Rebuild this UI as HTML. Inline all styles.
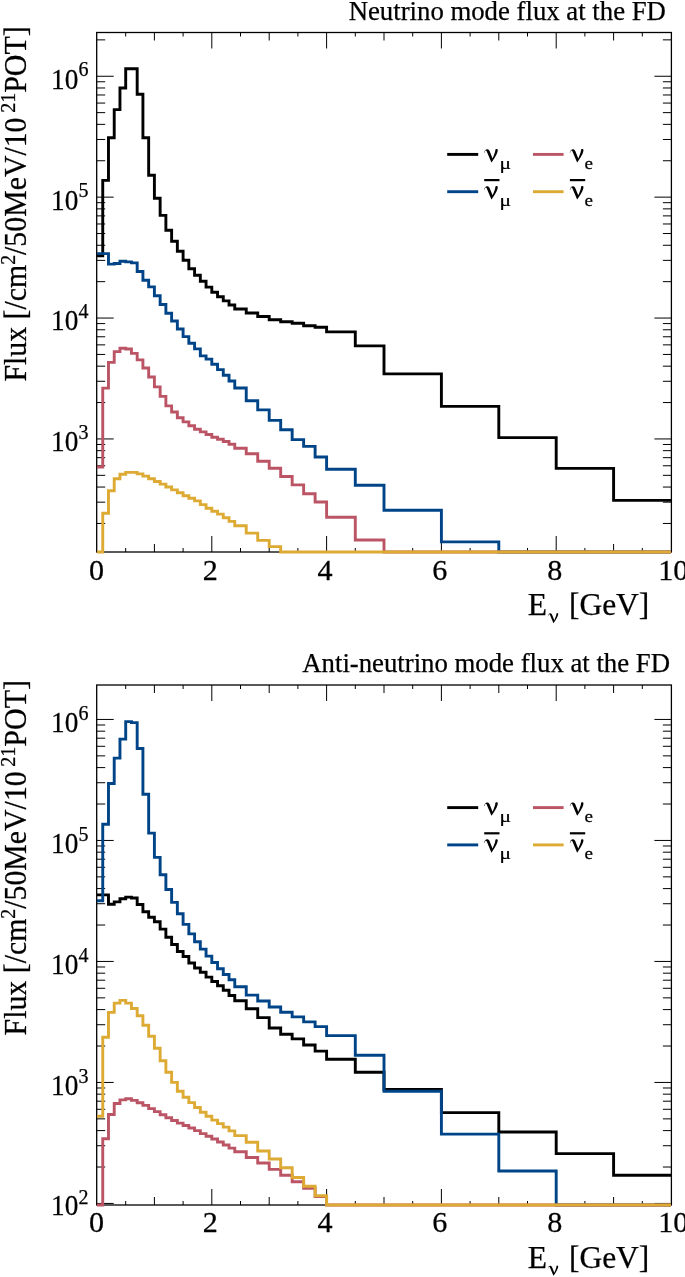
<!DOCTYPE html>
<html><head><meta charset="utf-8"><title>Flux at the FD</title>
<style>
html,body{margin:0;padding:0;background:#fff;}
svg{display:block;will-change:transform;}
text{font-family:"Liberation Serif",serif;fill:#000;stroke:#000;stroke-width:0.25px;}
</style></head>
<body>
<svg width="685" height="1277" viewBox="0 0 685 1277">
<rect width="685" height="1277" fill="#fff"/>
<rect x="96.70" y="32.50" width="574.70" height="519.50" fill="none" stroke="#000" stroke-width="1.3"/>
<path d="M125.70 552.00 v-4.00 M125.70 32.50 v4.00" stroke="#000" stroke-width="1.0" fill="none"/>
<path d="M154.40 552.00 v-8.00 M154.40 32.50 v8.00" stroke="#000" stroke-width="1.0" fill="none"/>
<path d="M183.10 552.00 v-4.00 M183.10 32.50 v4.00" stroke="#000" stroke-width="1.0" fill="none"/>
<path d="M211.80 552.00 v-16.00 M211.80 32.50 v16.00" stroke="#000" stroke-width="1.0" fill="none"/>
<path d="M240.50 552.00 v-4.00 M240.50 32.50 v4.00" stroke="#000" stroke-width="1.0" fill="none"/>
<path d="M269.20 552.00 v-8.00 M269.20 32.50 v8.00" stroke="#000" stroke-width="1.0" fill="none"/>
<path d="M297.90 552.00 v-4.00 M297.90 32.50 v4.00" stroke="#000" stroke-width="1.0" fill="none"/>
<path d="M326.60 552.00 v-16.00 M326.60 32.50 v16.00" stroke="#000" stroke-width="1.0" fill="none"/>
<path d="M355.30 552.00 v-4.00 M355.30 32.50 v4.00" stroke="#000" stroke-width="1.0" fill="none"/>
<path d="M384.00 552.00 v-8.00 M384.00 32.50 v8.00" stroke="#000" stroke-width="1.0" fill="none"/>
<path d="M412.70 552.00 v-4.00 M412.70 32.50 v4.00" stroke="#000" stroke-width="1.0" fill="none"/>
<path d="M441.40 552.00 v-16.00 M441.40 32.50 v16.00" stroke="#000" stroke-width="1.0" fill="none"/>
<path d="M470.10 552.00 v-4.00 M470.10 32.50 v4.00" stroke="#000" stroke-width="1.0" fill="none"/>
<path d="M498.80 552.00 v-8.00 M498.80 32.50 v8.00" stroke="#000" stroke-width="1.0" fill="none"/>
<path d="M527.50 552.00 v-4.00 M527.50 32.50 v4.00" stroke="#000" stroke-width="1.0" fill="none"/>
<path d="M556.20 552.00 v-16.00 M556.20 32.50 v16.00" stroke="#000" stroke-width="1.0" fill="none"/>
<path d="M584.90 552.00 v-4.00 M584.90 32.50 v4.00" stroke="#000" stroke-width="1.0" fill="none"/>
<path d="M613.60 552.00 v-8.00 M613.60 32.50 v8.00" stroke="#000" stroke-width="1.0" fill="none"/>
<path d="M642.30 552.00 v-4.00 M642.30 32.50 v4.00" stroke="#000" stroke-width="1.0" fill="none"/>
<path d="M96.70 523.46 h8.50 M671.40 523.46 h-8.50" stroke="#000" stroke-width="1.0" fill="none"/>
<path d="M96.70 502.17 h8.50 M671.40 502.17 h-8.50" stroke="#000" stroke-width="1.0" fill="none"/>
<path d="M96.70 487.06 h8.50 M671.40 487.06 h-8.50" stroke="#000" stroke-width="1.0" fill="none"/>
<path d="M96.70 475.34 h8.50 M671.40 475.34 h-8.50" stroke="#000" stroke-width="1.0" fill="none"/>
<path d="M96.70 465.77 h8.50 M671.40 465.77 h-8.50" stroke="#000" stroke-width="1.0" fill="none"/>
<path d="M96.70 457.68 h8.50 M671.40 457.68 h-8.50" stroke="#000" stroke-width="1.0" fill="none"/>
<path d="M96.70 450.67 h8.50 M671.40 450.67 h-8.50" stroke="#000" stroke-width="1.0" fill="none"/>
<path d="M96.70 444.48 h8.50 M671.40 444.48 h-8.50" stroke="#000" stroke-width="1.0" fill="none"/>
<path d="M96.70 438.95 h17.00 M671.40 438.95 h-17.00" stroke="#000" stroke-width="1.0" fill="none"/>
<path d="M96.70 402.56 h8.50 M671.40 402.56 h-8.50" stroke="#000" stroke-width="1.0" fill="none"/>
<path d="M96.70 381.27 h8.50 M671.40 381.27 h-8.50" stroke="#000" stroke-width="1.0" fill="none"/>
<path d="M96.70 366.16 h8.50 M671.40 366.16 h-8.50" stroke="#000" stroke-width="1.0" fill="none"/>
<path d="M96.70 354.44 h8.50 M671.40 354.44 h-8.50" stroke="#000" stroke-width="1.0" fill="none"/>
<path d="M96.70 344.87 h8.50 M671.40 344.87 h-8.50" stroke="#000" stroke-width="1.0" fill="none"/>
<path d="M96.70 336.78 h8.50 M671.40 336.78 h-8.50" stroke="#000" stroke-width="1.0" fill="none"/>
<path d="M96.70 329.77 h8.50 M671.40 329.77 h-8.50" stroke="#000" stroke-width="1.0" fill="none"/>
<path d="M96.70 323.58 h8.50 M671.40 323.58 h-8.50" stroke="#000" stroke-width="1.0" fill="none"/>
<path d="M96.70 318.05 h17.00 M671.40 318.05 h-17.00" stroke="#000" stroke-width="1.0" fill="none"/>
<path d="M96.70 281.66 h8.50 M671.40 281.66 h-8.50" stroke="#000" stroke-width="1.0" fill="none"/>
<path d="M96.70 260.37 h8.50 M671.40 260.37 h-8.50" stroke="#000" stroke-width="1.0" fill="none"/>
<path d="M96.70 245.26 h8.50 M671.40 245.26 h-8.50" stroke="#000" stroke-width="1.0" fill="none"/>
<path d="M96.70 233.54 h8.50 M671.40 233.54 h-8.50" stroke="#000" stroke-width="1.0" fill="none"/>
<path d="M96.70 223.97 h8.50 M671.40 223.97 h-8.50" stroke="#000" stroke-width="1.0" fill="none"/>
<path d="M96.70 215.88 h8.50 M671.40 215.88 h-8.50" stroke="#000" stroke-width="1.0" fill="none"/>
<path d="M96.70 208.87 h8.50 M671.40 208.87 h-8.50" stroke="#000" stroke-width="1.0" fill="none"/>
<path d="M96.70 202.68 h8.50 M671.40 202.68 h-8.50" stroke="#000" stroke-width="1.0" fill="none"/>
<path d="M96.70 197.15 h17.00 M671.40 197.15 h-17.00" stroke="#000" stroke-width="1.0" fill="none"/>
<path d="M96.70 160.76 h8.50 M671.40 160.76 h-8.50" stroke="#000" stroke-width="1.0" fill="none"/>
<path d="M96.70 139.47 h8.50 M671.40 139.47 h-8.50" stroke="#000" stroke-width="1.0" fill="none"/>
<path d="M96.70 124.36 h8.50 M671.40 124.36 h-8.50" stroke="#000" stroke-width="1.0" fill="none"/>
<path d="M96.70 112.64 h8.50 M671.40 112.64 h-8.50" stroke="#000" stroke-width="1.0" fill="none"/>
<path d="M96.70 103.07 h8.50 M671.40 103.07 h-8.50" stroke="#000" stroke-width="1.0" fill="none"/>
<path d="M96.70 94.98 h8.50 M671.40 94.98 h-8.50" stroke="#000" stroke-width="1.0" fill="none"/>
<path d="M96.70 87.97 h8.50 M671.40 87.97 h-8.50" stroke="#000" stroke-width="1.0" fill="none"/>
<path d="M96.70 81.78 h8.50 M671.40 81.78 h-8.50" stroke="#000" stroke-width="1.0" fill="none"/>
<path d="M96.70 76.25 h17.00 M671.40 76.25 h-17.00" stroke="#000" stroke-width="1.0" fill="none"/>
<path d="M96.70 39.86 h8.50 M671.40 39.86 h-8.50" stroke="#000" stroke-width="1.0" fill="none"/>
<path d="M97.00 255.80 L102.74 255.80 L102.74 180.40 L108.48 180.40 L108.48 137.70 L114.22 137.70 L114.22 109.60 L119.96 109.60 L119.96 88.00 L125.70 88.00 L125.70 68.80 L131.44 68.80 L131.44 68.80 L137.18 68.80 L137.18 94.30 L142.92 94.30 L142.92 137.80 L148.66 137.80 L148.66 175.30 L154.40 175.30 L154.40 198.20 L160.14 198.20 L160.14 215.40 L165.88 215.40 L165.88 230.30 L171.62 230.30 L171.62 241.30 L177.36 241.30 L177.36 251.20 L183.10 251.20 L183.10 260.20 L188.84 260.20 L188.84 268.70 L194.58 268.70 L194.58 275.20 L200.32 275.20 L200.32 281.30 L206.06 281.30 L206.06 287.10 L211.80 287.10 L211.80 292.20 L217.54 292.20 L217.54 296.70 L223.28 296.70 L223.28 300.90 L229.02 300.90 L229.02 305.00 L234.76 305.00 L234.76 309.00 L246.24 309.00 L246.24 313.00 L257.72 313.00 L257.72 316.50 L269.20 316.50 L269.20 319.70 L280.68 319.70 L280.68 321.70 L292.16 321.70 L292.16 323.30 L303.64 323.30 L303.64 325.80 L315.12 325.80 L315.12 327.20 L326.60 327.20 L326.60 331.90 L355.30 331.90 L355.30 345.90 L384.00 345.90 L384.00 373.90 L441.40 373.90 L441.40 406.40 L498.80 406.40 L498.80 437.60 L556.20 437.60 L556.20 468.40 L613.60 468.40 L613.60 500.40 L671.00 500.40" fill="none" stroke="#000000" stroke-width="2.9" stroke-linejoin="miter" stroke-linecap="butt"/>
<path d="M97.00 253.60 L102.74 253.60 L102.74 253.60 L108.48 253.60 L108.48 264.10 L114.22 264.10 L114.22 263.50 L119.96 263.50 L119.96 261.30 L125.70 261.30 L125.70 261.90 L131.44 261.90 L131.44 262.90 L137.18 262.90 L137.18 271.50 L142.92 271.50 L142.92 280.20 L148.66 280.20 L148.66 286.90 L154.40 286.90 L154.40 295.70 L160.14 295.70 L160.14 304.50 L165.88 304.50 L165.88 313.20 L171.62 313.20 L171.62 321.00 L177.36 321.00 L177.36 329.00 L183.10 329.00 L183.10 336.60 L188.84 336.60 L188.84 343.30 L194.58 343.30 L194.58 348.90 L200.32 348.90 L200.32 355.90 L206.06 355.90 L206.06 359.10 L211.80 359.10 L211.80 364.30 L217.54 364.30 L217.54 369.60 L223.28 369.60 L223.28 375.30 L229.02 375.30 L229.02 381.00 L234.76 381.00 L234.76 388.00 L246.24 388.00 L246.24 400.80 L257.72 400.80 L257.72 409.90 L269.20 409.90 L269.20 420.40 L280.68 420.40 L280.68 429.80 L292.16 429.80 L292.16 439.60 L303.64 439.60 L303.64 446.40 L315.12 446.40 L315.12 457.00 L326.60 457.00 L326.60 469.30 L355.30 469.30 L355.30 485.20 L384.00 485.20 L384.00 510.20 L441.40 510.20 L441.40 541.90 L498.80 541.90 L498.80 552.00 L556.20 552.00 L556.20 552.00 L613.60 552.00 L613.60 552.00 L671.00 552.00" fill="none" stroke="#004488" stroke-width="2.9" stroke-linejoin="miter" stroke-linecap="butt"/>
<path d="M97.00 467.00 L102.74 467.00 L102.74 388.10 L108.48 388.10 L108.48 362.40 L114.22 362.40 L114.22 351.60 L119.96 351.60 L119.96 348.20 L125.70 348.20 L125.70 349.00 L131.44 349.00 L131.44 353.40 L137.18 353.40 L137.18 359.90 L142.92 359.90 L142.92 368.00 L148.66 368.00 L148.66 377.00 L154.40 377.00 L154.40 386.90 L160.14 386.90 L160.14 396.40 L165.88 396.40 L165.88 405.90 L171.62 405.90 L171.62 412.00 L177.36 412.00 L177.36 417.80 L183.10 417.80 L183.10 421.90 L188.84 421.90 L188.84 425.80 L194.58 425.80 L194.58 429.30 L200.32 429.30 L200.32 431.90 L206.06 431.90 L206.06 434.50 L211.80 434.50 L211.80 437.20 L217.54 437.20 L217.54 439.30 L223.28 439.30 L223.28 441.50 L229.02 441.50 L229.02 444.20 L234.76 444.20 L234.76 448.20 L246.24 448.20 L246.24 453.80 L257.72 453.80 L257.72 461.20 L269.20 461.20 L269.20 468.20 L280.68 468.20 L280.68 476.50 L292.16 476.50 L292.16 484.90 L303.64 484.90 L303.64 493.80 L315.12 493.80 L315.12 502.00 L326.60 502.00 L326.60 517.30 L355.30 517.30 L355.30 540.00 L384.00 540.00 L384.00 552.00 L441.40 552.00 L441.40 552.00 L498.80 552.00 L498.80 552.00 L556.20 552.00 L556.20 552.00 L613.60 552.00 L613.60 552.00 L671.00 552.00" fill="none" stroke="#BB5566" stroke-width="2.9" stroke-linejoin="miter" stroke-linecap="butt"/>
<path d="M97.00 552.00 L102.74 552.00 L102.74 513.30 L108.48 513.30 L108.48 490.70 L114.22 490.70 L114.22 478.70 L119.96 478.70 L119.96 474.30 L125.70 474.30 L125.70 472.40 L131.44 472.40 L131.44 472.40 L137.18 472.40 L137.18 473.90 L142.92 473.90 L142.92 476.10 L148.66 476.10 L148.66 478.70 L154.40 478.70 L154.40 481.50 L160.14 481.50 L160.14 484.10 L165.88 484.10 L165.88 487.00 L171.62 487.00 L171.62 489.90 L177.36 489.90 L177.36 492.80 L183.10 492.80 L183.10 495.80 L188.84 495.80 L188.84 498.20 L194.58 498.20 L194.58 500.90 L200.32 500.90 L200.32 504.60 L206.06 504.60 L206.06 508.20 L211.80 508.20 L211.80 511.20 L217.54 511.20 L217.54 514.10 L223.28 514.10 L223.28 517.70 L229.02 517.70 L229.02 521.40 L234.76 521.40 L234.76 525.80 L246.24 525.80 L246.24 533.10 L257.72 533.10 L257.72 540.40 L269.20 540.40 L269.20 546.60 L280.68 546.60 L280.68 552.00 L292.16 552.00 L292.16 552.00 L303.64 552.00 L303.64 552.00 L315.12 552.00 L315.12 552.00 L326.60 552.00 L326.60 552.00 L355.30 552.00 L355.30 552.00 L384.00 552.00 L384.00 552.00 L441.40 552.00 L441.40 552.00 L498.80 552.00 L498.80 552.00 L556.20 552.00 L556.20 552.00 L613.60 552.00 L613.60 552.00 L671.00 552.00" fill="none" stroke="#DDAA33" stroke-width="2.9" stroke-linejoin="miter" stroke-linecap="butt"/>
<g class="tx">
<text transform="translate(665.90 19.50)" font-size="26.75" text-anchor="end">Neutrino mode flux at the FD</text>
<text transform="translate(51.00 88.65) scale(0.950 1.030)" font-size="28.70">10</text>
<text transform="translate(78.60 76.35)" font-size="20.00">6</text>
<text transform="translate(51.00 209.55) scale(0.950 1.030)" font-size="28.70">10</text>
<text transform="translate(78.60 197.25)" font-size="20.00">5</text>
<text transform="translate(51.00 330.45) scale(0.950 1.030)" font-size="28.70">10</text>
<text transform="translate(78.60 318.15)" font-size="20.00">4</text>
<text transform="translate(51.00 451.35) scale(0.950 1.030)" font-size="28.70">10</text>
<text transform="translate(78.60 439.05)" font-size="20.00">3</text>
<text transform="translate(96.50 579.60) scale(1.050 1.060)" font-size="28.70" text-anchor="middle">0</text>
<text transform="translate(210.30 579.60) scale(1.050 1.060)" font-size="28.70" text-anchor="middle">2</text>
<text transform="translate(325.10 579.60) scale(1.050 1.060)" font-size="28.70" text-anchor="middle">4</text>
<text transform="translate(439.90 579.60) scale(1.050 1.060)" font-size="28.70" text-anchor="middle">6</text>
<text transform="translate(554.70 579.60) scale(1.050 1.060)" font-size="28.70" text-anchor="middle">8</text>
<text transform="translate(673.20 579.60) scale(1.050 1.060)" font-size="28.70" text-anchor="middle">10</text>
<text transform="translate(527.80 615.00)" font-size="31.50">E</text>
<text transform="translate(568.90 615.00)" font-size="31.50">[GeV]</text>
<text transform="translate(26.20 381.60) rotate(-90) scale(0.994 1.055)" font-size="30.00">Flux [/cm<tspan font-size="20.0" dy="-10.5">2</tspan><tspan dy="10.5">/50MeV/10</tspan></text>
<text transform="translate(26.20 26.20) rotate(-90) scale(1.000 1.055)" font-size="30.00" text-anchor="end"><tspan font-size="20.0" dy="-10.5">21</tspan><tspan dy="10.5">POT]</tspan></text>
</g>
<path d="M447.2 154.40 H478.2" stroke="#000000" stroke-width="2.9"/>
<path d="M447.2 191.70 H478.2" stroke="#004488" stroke-width="2.9"/>
<path transform="translate(484.10 162.30) scale(0.02920) translate(-105 -592)" d="M105 265 C110 200 160 148 210 145 C265 142 290 190 310 250 L395 460 L440 350 C465 290 490 220 490 175 C492 140 520 135 545 140 C575 145 580 175 565 230 C550 290 500 400 365 592 L352 592 L200 230 C190 200 175 188 158 190 C135 195 125 230 120 268 Z" fill="#000"/>
<text transform="translate(499.40 168.90) scale(1.220 1.000)" font-size="17.60">μ</text>
<path transform="translate(484.10 199.20) scale(0.02920) translate(-105 -592)" d="M105 265 C110 200 160 148 210 145 C265 142 290 190 310 250 L395 460 L440 350 C465 290 490 220 490 175 C492 140 520 135 545 140 C575 145 580 175 565 230 C550 290 500 400 365 592 L352 592 L200 230 C190 200 175 188 158 190 C135 195 125 230 120 268 Z" fill="#000"/>
<text transform="translate(499.40 206.20) scale(1.220 1.000)" font-size="17.60">μ</text>
<path d="M484.2 180.10 h15.3" stroke="#000" stroke-width="2.2"/>
<path d="M533.0 154.40 H563.6" stroke="#BB5566" stroke-width="2.9"/>
<path d="M533.0 191.70 H563.6" stroke="#DDAA33" stroke-width="2.9"/>
<path transform="translate(569.80 162.30) scale(0.02920) translate(-105 -592)" d="M105 265 C110 200 160 148 210 145 C265 142 290 190 310 250 L395 460 L440 350 C465 290 490 220 490 175 C492 140 520 135 545 140 C575 145 580 175 565 230 C550 290 500 400 365 592 L352 592 L200 230 C190 200 175 188 158 190 C135 195 125 230 120 268 Z" fill="#000"/>
<text transform="translate(584.40 168.90) scale(1.080 1.000)" font-size="17.60">e</text>
<path transform="translate(569.80 199.20) scale(0.02920) translate(-105 -592)" d="M105 265 C110 200 160 148 210 145 C265 142 290 190 310 250 L395 460 L440 350 C465 290 490 220 490 175 C492 140 520 135 545 140 C575 145 580 175 565 230 C550 290 500 400 365 592 L352 592 L200 230 C190 200 175 188 158 190 C135 195 125 230 120 268 Z" fill="#000"/>
<text transform="translate(584.40 206.20) scale(1.080 1.000)" font-size="17.60">e</text>
<path d="M569.9 180.10 h15.3" stroke="#000" stroke-width="2.2"/>
<path transform="translate(547.90 623.10) scale(0.02204) translate(-105 -592)" d="M105 265 C110 200 160 148 210 145 C265 142 290 190 310 250 L395 460 L440 350 C465 290 490 220 490 175 C492 140 520 135 545 140 C575 145 580 175 565 230 C550 290 500 400 365 592 L352 592 L200 230 C190 200 175 188 158 190 C135 195 125 230 120 268 Z" fill="#000"/>
<rect x="96.70" y="685.00" width="574.70" height="520.00" fill="none" stroke="#000" stroke-width="1.3"/>
<path d="M125.70 1205.00 v-4.00 M125.70 685.00 v4.00" stroke="#000" stroke-width="1.0" fill="none"/>
<path d="M154.40 1205.00 v-8.00 M154.40 685.00 v8.00" stroke="#000" stroke-width="1.0" fill="none"/>
<path d="M183.10 1205.00 v-4.00 M183.10 685.00 v4.00" stroke="#000" stroke-width="1.0" fill="none"/>
<path d="M211.80 1205.00 v-16.00 M211.80 685.00 v16.00" stroke="#000" stroke-width="1.0" fill="none"/>
<path d="M240.50 1205.00 v-4.00 M240.50 685.00 v4.00" stroke="#000" stroke-width="1.0" fill="none"/>
<path d="M269.20 1205.00 v-8.00 M269.20 685.00 v8.00" stroke="#000" stroke-width="1.0" fill="none"/>
<path d="M297.90 1205.00 v-4.00 M297.90 685.00 v4.00" stroke="#000" stroke-width="1.0" fill="none"/>
<path d="M326.60 1205.00 v-16.00 M326.60 685.00 v16.00" stroke="#000" stroke-width="1.0" fill="none"/>
<path d="M355.30 1205.00 v-4.00 M355.30 685.00 v4.00" stroke="#000" stroke-width="1.0" fill="none"/>
<path d="M384.00 1205.00 v-8.00 M384.00 685.00 v8.00" stroke="#000" stroke-width="1.0" fill="none"/>
<path d="M412.70 1205.00 v-4.00 M412.70 685.00 v4.00" stroke="#000" stroke-width="1.0" fill="none"/>
<path d="M441.40 1205.00 v-16.00 M441.40 685.00 v16.00" stroke="#000" stroke-width="1.0" fill="none"/>
<path d="M470.10 1205.00 v-4.00 M470.10 685.00 v4.00" stroke="#000" stroke-width="1.0" fill="none"/>
<path d="M498.80 1205.00 v-8.00 M498.80 685.00 v8.00" stroke="#000" stroke-width="1.0" fill="none"/>
<path d="M527.50 1205.00 v-4.00 M527.50 685.00 v4.00" stroke="#000" stroke-width="1.0" fill="none"/>
<path d="M556.20 1205.00 v-16.00 M556.20 685.00 v16.00" stroke="#000" stroke-width="1.0" fill="none"/>
<path d="M584.90 1205.00 v-4.00 M584.90 685.00 v4.00" stroke="#000" stroke-width="1.0" fill="none"/>
<path d="M613.60 1205.00 v-8.00 M613.60 685.00 v8.00" stroke="#000" stroke-width="1.0" fill="none"/>
<path d="M642.30 1205.00 v-4.00 M642.30 685.00 v4.00" stroke="#000" stroke-width="1.0" fill="none"/>
<path d="M96.70 1203.45 h17.00 M671.40 1203.45 h-17.00" stroke="#000" stroke-width="1.0" fill="none"/>
<path d="M96.70 1167.03 h8.50 M671.40 1167.03 h-8.50" stroke="#000" stroke-width="1.0" fill="none"/>
<path d="M96.70 1145.72 h8.50 M671.40 1145.72 h-8.50" stroke="#000" stroke-width="1.0" fill="none"/>
<path d="M96.70 1130.60 h8.50 M671.40 1130.60 h-8.50" stroke="#000" stroke-width="1.0" fill="none"/>
<path d="M96.70 1118.87 h8.50 M671.40 1118.87 h-8.50" stroke="#000" stroke-width="1.0" fill="none"/>
<path d="M96.70 1109.29 h8.50 M671.40 1109.29 h-8.50" stroke="#000" stroke-width="1.0" fill="none"/>
<path d="M96.70 1101.19 h8.50 M671.40 1101.19 h-8.50" stroke="#000" stroke-width="1.0" fill="none"/>
<path d="M96.70 1094.18 h8.50 M671.40 1094.18 h-8.50" stroke="#000" stroke-width="1.0" fill="none"/>
<path d="M96.70 1087.99 h8.50 M671.40 1087.99 h-8.50" stroke="#000" stroke-width="1.0" fill="none"/>
<path d="M96.70 1082.45 h17.00 M671.40 1082.45 h-17.00" stroke="#000" stroke-width="1.0" fill="none"/>
<path d="M96.70 1046.03 h8.50 M671.40 1046.03 h-8.50" stroke="#000" stroke-width="1.0" fill="none"/>
<path d="M96.70 1024.72 h8.50 M671.40 1024.72 h-8.50" stroke="#000" stroke-width="1.0" fill="none"/>
<path d="M96.70 1009.60 h8.50 M671.40 1009.60 h-8.50" stroke="#000" stroke-width="1.0" fill="none"/>
<path d="M96.70 997.87 h8.50 M671.40 997.87 h-8.50" stroke="#000" stroke-width="1.0" fill="none"/>
<path d="M96.70 988.29 h8.50 M671.40 988.29 h-8.50" stroke="#000" stroke-width="1.0" fill="none"/>
<path d="M96.70 980.19 h8.50 M671.40 980.19 h-8.50" stroke="#000" stroke-width="1.0" fill="none"/>
<path d="M96.70 973.18 h8.50 M671.40 973.18 h-8.50" stroke="#000" stroke-width="1.0" fill="none"/>
<path d="M96.70 966.99 h8.50 M671.40 966.99 h-8.50" stroke="#000" stroke-width="1.0" fill="none"/>
<path d="M96.70 961.45 h17.00 M671.40 961.45 h-17.00" stroke="#000" stroke-width="1.0" fill="none"/>
<path d="M96.70 925.03 h8.50 M671.40 925.03 h-8.50" stroke="#000" stroke-width="1.0" fill="none"/>
<path d="M96.70 903.72 h8.50 M671.40 903.72 h-8.50" stroke="#000" stroke-width="1.0" fill="none"/>
<path d="M96.70 888.60 h8.50 M671.40 888.60 h-8.50" stroke="#000" stroke-width="1.0" fill="none"/>
<path d="M96.70 876.87 h8.50 M671.40 876.87 h-8.50" stroke="#000" stroke-width="1.0" fill="none"/>
<path d="M96.70 867.29 h8.50 M671.40 867.29 h-8.50" stroke="#000" stroke-width="1.0" fill="none"/>
<path d="M96.70 859.19 h8.50 M671.40 859.19 h-8.50" stroke="#000" stroke-width="1.0" fill="none"/>
<path d="M96.70 852.18 h8.50 M671.40 852.18 h-8.50" stroke="#000" stroke-width="1.0" fill="none"/>
<path d="M96.70 845.99 h8.50 M671.40 845.99 h-8.50" stroke="#000" stroke-width="1.0" fill="none"/>
<path d="M96.70 840.45 h17.00 M671.40 840.45 h-17.00" stroke="#000" stroke-width="1.0" fill="none"/>
<path d="M96.70 804.03 h8.50 M671.40 804.03 h-8.50" stroke="#000" stroke-width="1.0" fill="none"/>
<path d="M96.70 782.72 h8.50 M671.40 782.72 h-8.50" stroke="#000" stroke-width="1.0" fill="none"/>
<path d="M96.70 767.60 h8.50 M671.40 767.60 h-8.50" stroke="#000" stroke-width="1.0" fill="none"/>
<path d="M96.70 755.87 h8.50 M671.40 755.87 h-8.50" stroke="#000" stroke-width="1.0" fill="none"/>
<path d="M96.70 746.29 h8.50 M671.40 746.29 h-8.50" stroke="#000" stroke-width="1.0" fill="none"/>
<path d="M96.70 738.19 h8.50 M671.40 738.19 h-8.50" stroke="#000" stroke-width="1.0" fill="none"/>
<path d="M96.70 731.18 h8.50 M671.40 731.18 h-8.50" stroke="#000" stroke-width="1.0" fill="none"/>
<path d="M96.70 724.99 h8.50 M671.40 724.99 h-8.50" stroke="#000" stroke-width="1.0" fill="none"/>
<path d="M96.70 719.45 h17.00 M671.40 719.45 h-17.00" stroke="#000" stroke-width="1.0" fill="none"/>
<path d="M97.00 894.90 L102.74 894.90 L102.74 894.90 L108.48 894.90 L108.48 904.30 L114.22 904.30 L114.22 901.90 L119.96 901.90 L119.96 898.80 L125.70 898.80 L125.70 897.10 L131.44 897.10 L131.44 898.00 L137.18 898.00 L137.18 904.50 L142.92 904.50 L142.92 911.80 L148.66 911.80 L148.66 917.30 L154.40 917.30 L154.40 921.80 L160.14 921.80 L160.14 929.10 L165.88 929.10 L165.88 937.20 L171.62 937.20 L171.62 944.50 L177.36 944.50 L177.36 951.50 L183.10 951.50 L183.10 956.50 L188.84 956.50 L188.84 963.00 L194.58 963.00 L194.58 968.00 L200.32 968.00 L200.32 972.20 L206.06 972.20 L206.06 977.10 L211.80 977.10 L211.80 981.50 L217.54 981.50 L217.54 985.80 L223.28 985.80 L223.28 990.20 L229.02 990.20 L229.02 995.50 L234.76 995.50 L234.76 1000.70 L246.24 1000.70 L246.24 1008.80 L257.72 1008.80 L257.72 1017.60 L269.20 1017.60 L269.20 1028.00 L280.68 1028.00 L280.68 1034.20 L292.16 1034.20 L292.16 1038.90 L303.64 1038.90 L303.64 1045.00 L315.12 1045.00 L315.12 1051.10 L326.60 1051.10 L326.60 1059.30 L355.30 1059.30 L355.30 1072.30 L384.00 1072.30 L384.00 1089.50 L441.40 1089.50 L441.40 1112.60 L498.80 1112.60 L498.80 1132.00 L556.20 1132.00 L556.20 1153.60 L613.60 1153.60 L613.60 1175.30 L671.00 1175.30" fill="none" stroke="#000000" stroke-width="2.9" stroke-linejoin="miter" stroke-linecap="butt"/>
<path d="M97.00 900.70 L102.74 900.70 L102.74 824.30 L108.48 824.30 L108.48 783.50 L114.22 783.50 L114.22 758.10 L119.96 758.10 L119.96 739.10 L125.70 739.10 L125.70 721.60 L131.44 721.60 L131.44 722.60 L137.18 722.60 L137.18 748.50 L142.92 748.50 L142.92 794.20 L148.66 794.20 L148.66 833.10 L154.40 833.10 L154.40 857.40 L160.14 857.40 L160.14 874.70 L165.88 874.70 L165.88 889.50 L171.62 889.50 L171.62 902.40 L177.36 902.40 L177.36 913.80 L183.10 913.80 L183.10 924.40 L188.84 924.40 L188.84 933.90 L194.58 933.90 L194.58 941.70 L200.32 941.70 L200.32 949.10 L206.06 949.10 L206.06 956.10 L211.80 956.10 L211.80 962.50 L217.54 962.50 L217.54 968.70 L223.28 968.70 L223.28 974.50 L229.02 974.50 L229.02 979.70 L234.76 979.70 L234.76 986.70 L246.24 986.70 L246.24 995.10 L257.72 995.10 L257.72 1001.00 L269.20 1001.00 L269.20 1007.00 L280.68 1007.00 L280.68 1012.20 L292.16 1012.20 L292.16 1016.90 L303.64 1016.90 L303.64 1021.90 L315.12 1021.90 L315.12 1026.60 L326.60 1026.60 L326.60 1035.60 L355.30 1035.60 L355.30 1055.30 L384.00 1055.30 L384.00 1091.30 L441.40 1091.30 L441.40 1134.10 L498.80 1134.10 L498.80 1171.00 L556.20 1171.00 L556.20 1205.00 L613.60 1205.00 L613.60 1205.00 L671.00 1205.00" fill="none" stroke="#004488" stroke-width="2.9" stroke-linejoin="miter" stroke-linecap="butt"/>
<path d="M97.00 1205.00 L102.74 1205.00 L102.74 1138.70 L108.48 1138.70 L108.48 1114.50 L114.22 1114.50 L114.22 1103.50 L119.96 1103.50 L119.96 1099.90 L125.70 1099.90 L125.70 1098.80 L131.44 1098.80 L131.44 1100.40 L137.18 1100.40 L137.18 1102.80 L142.92 1102.80 L142.92 1105.40 L148.66 1105.40 L148.66 1108.60 L154.40 1108.60 L154.40 1111.60 L160.14 1111.60 L160.14 1114.70 L165.88 1114.70 L165.88 1117.70 L171.62 1117.70 L171.62 1120.50 L177.36 1120.50 L177.36 1123.10 L183.10 1123.10 L183.10 1125.50 L188.84 1125.50 L188.84 1128.00 L194.58 1128.00 L194.58 1130.60 L200.32 1130.60 L200.32 1133.60 L206.06 1133.60 L206.06 1136.20 L211.80 1136.20 L211.80 1139.00 L217.54 1139.00 L217.54 1142.00 L223.28 1142.00 L223.28 1145.00 L229.02 1145.00 L229.02 1148.10 L234.76 1148.10 L234.76 1151.80 L246.24 1151.80 L246.24 1157.50 L257.72 1157.50 L257.72 1163.00 L269.20 1163.00 L269.20 1169.40 L280.68 1169.40 L280.68 1175.20 L292.16 1175.20 L292.16 1181.70 L303.64 1181.70 L303.64 1188.30 L315.12 1188.30 L315.12 1196.50 L326.60 1196.50 L326.60 1205.00 L355.30 1205.00 L355.30 1205.00 L384.00 1205.00 L384.00 1205.00 L441.40 1205.00 L441.40 1205.00 L498.80 1205.00 L498.80 1205.00 L556.20 1205.00 L556.20 1205.00 L613.60 1205.00 L613.60 1205.00 L671.00 1205.00" fill="none" stroke="#BB5566" stroke-width="2.9" stroke-linejoin="miter" stroke-linecap="butt"/>
<path d="M97.00 1116.20 L102.74 1116.20 L102.74 1037.20 L108.48 1037.20 L108.48 1012.40 L114.22 1012.40 L114.22 1003.10 L119.96 1003.10 L119.96 1000.40 L125.70 1000.40 L125.70 1003.10 L131.44 1003.10 L131.44 1008.50 L137.18 1008.50 L137.18 1015.80 L142.92 1015.80 L142.92 1025.30 L148.66 1025.30 L148.66 1036.20 L154.40 1036.20 L154.40 1048.30 L160.14 1048.30 L160.14 1060.70 L165.88 1060.70 L165.88 1072.30 L171.62 1072.30 L171.62 1082.40 L177.36 1082.40 L177.36 1091.20 L183.10 1091.20 L183.10 1097.30 L188.84 1097.30 L188.84 1102.60 L194.58 1102.60 L194.58 1107.50 L200.32 1107.50 L200.32 1112.20 L206.06 1112.20 L206.06 1116.20 L211.80 1116.20 L211.80 1120.10 L217.54 1120.10 L217.54 1123.60 L223.28 1123.60 L223.28 1127.10 L229.02 1127.10 L229.02 1130.90 L234.76 1130.90 L234.76 1135.60 L246.24 1135.60 L246.24 1142.20 L257.72 1142.20 L257.72 1151.00 L269.20 1151.00 L269.20 1159.00 L280.68 1159.00 L280.68 1167.70 L292.16 1167.70 L292.16 1177.50 L303.64 1177.50 L303.64 1186.20 L315.12 1186.20 L315.12 1195.70 L326.60 1195.70 L326.60 1205.00 L355.30 1205.00 L355.30 1205.00 L384.00 1205.00 L384.00 1205.00 L441.40 1205.00 L441.40 1205.00 L498.80 1205.00 L498.80 1205.00 L556.20 1205.00 L556.20 1205.00 L613.60 1205.00 L613.60 1205.00 L671.00 1205.00" fill="none" stroke="#DDAA33" stroke-width="2.9" stroke-linejoin="miter" stroke-linecap="butt"/>
<g class="tx">
<text transform="translate(670.00 671.50)" font-size="26.75" text-anchor="end">Anti-neutrino mode flux at the FD</text>
<text transform="translate(51.00 731.85) scale(0.950 1.030)" font-size="28.70">10</text>
<text transform="translate(78.60 719.55)" font-size="20.00">6</text>
<text transform="translate(51.00 852.85) scale(0.950 1.030)" font-size="28.70">10</text>
<text transform="translate(78.60 840.55)" font-size="20.00">5</text>
<text transform="translate(51.00 973.85) scale(0.950 1.030)" font-size="28.70">10</text>
<text transform="translate(78.60 961.55)" font-size="20.00">4</text>
<text transform="translate(51.00 1094.85) scale(0.950 1.030)" font-size="28.70">10</text>
<text transform="translate(78.60 1082.55)" font-size="20.00">3</text>
<text transform="translate(51.00 1214.55) scale(0.950 1.030)" font-size="28.70">10</text>
<text transform="translate(78.60 1203.55)" font-size="20.00">2</text>
<text transform="translate(96.50 1232.10) scale(1.050 1.060)" font-size="28.70" text-anchor="middle">0</text>
<text transform="translate(210.30 1232.10) scale(1.050 1.060)" font-size="28.70" text-anchor="middle">2</text>
<text transform="translate(325.10 1232.10) scale(1.050 1.060)" font-size="28.70" text-anchor="middle">4</text>
<text transform="translate(439.90 1232.10) scale(1.050 1.060)" font-size="28.70" text-anchor="middle">6</text>
<text transform="translate(554.70 1232.10) scale(1.050 1.060)" font-size="28.70" text-anchor="middle">8</text>
<text transform="translate(673.20 1232.10) scale(1.050 1.060)" font-size="28.70" text-anchor="middle">10</text>
<text transform="translate(527.80 1267.50)" font-size="31.50">E</text>
<text transform="translate(568.90 1267.50)" font-size="31.50">[GeV]</text>
<text transform="translate(26.20 1035.40) rotate(-90) scale(0.994 1.055)" font-size="30.00">Flux [/cm<tspan font-size="20.0" dy="-10.5">2</tspan><tspan dy="10.5">/50MeV/10</tspan></text>
<text transform="translate(26.20 680.00) rotate(-90) scale(1.000 1.055)" font-size="30.00" text-anchor="end"><tspan font-size="20.0" dy="-10.5">21</tspan><tspan dy="10.5">POT]</tspan></text>
</g>
<path d="M447.2 807.60 H478.2" stroke="#000000" stroke-width="2.9"/>
<path d="M447.2 844.90 H478.2" stroke="#004488" stroke-width="2.9"/>
<path transform="translate(484.10 815.50) scale(0.02920) translate(-105 -592)" d="M105 265 C110 200 160 148 210 145 C265 142 290 190 310 250 L395 460 L440 350 C465 290 490 220 490 175 C492 140 520 135 545 140 C575 145 580 175 565 230 C550 290 500 400 365 592 L352 592 L200 230 C190 200 175 188 158 190 C135 195 125 230 120 268 Z" fill="#000"/>
<text transform="translate(499.40 822.10) scale(1.220 1.000)" font-size="17.60">μ</text>
<path transform="translate(484.10 852.40) scale(0.02920) translate(-105 -592)" d="M105 265 C110 200 160 148 210 145 C265 142 290 190 310 250 L395 460 L440 350 C465 290 490 220 490 175 C492 140 520 135 545 140 C575 145 580 175 565 230 C550 290 500 400 365 592 L352 592 L200 230 C190 200 175 188 158 190 C135 195 125 230 120 268 Z" fill="#000"/>
<text transform="translate(499.40 859.40) scale(1.220 1.000)" font-size="17.60">μ</text>
<path d="M484.2 833.30 h15.3" stroke="#000" stroke-width="2.2"/>
<path d="M533.0 807.60 H563.6" stroke="#BB5566" stroke-width="2.9"/>
<path d="M533.0 844.90 H563.6" stroke="#DDAA33" stroke-width="2.9"/>
<path transform="translate(569.80 815.50) scale(0.02920) translate(-105 -592)" d="M105 265 C110 200 160 148 210 145 C265 142 290 190 310 250 L395 460 L440 350 C465 290 490 220 490 175 C492 140 520 135 545 140 C575 145 580 175 565 230 C550 290 500 400 365 592 L352 592 L200 230 C190 200 175 188 158 190 C135 195 125 230 120 268 Z" fill="#000"/>
<text transform="translate(584.40 822.10) scale(1.080 1.000)" font-size="17.60">e</text>
<path transform="translate(569.80 852.40) scale(0.02920) translate(-105 -592)" d="M105 265 C110 200 160 148 210 145 C265 142 290 190 310 250 L395 460 L440 350 C465 290 490 220 490 175 C492 140 520 135 545 140 C575 145 580 175 565 230 C550 290 500 400 365 592 L352 592 L200 230 C190 200 175 188 158 190 C135 195 125 230 120 268 Z" fill="#000"/>
<text transform="translate(584.40 859.40) scale(1.080 1.000)" font-size="17.60">e</text>
<path d="M569.9 833.30 h15.3" stroke="#000" stroke-width="2.2"/>
<path transform="translate(547.90 1275.60) scale(0.02204) translate(-105 -592)" d="M105 265 C110 200 160 148 210 145 C265 142 290 190 310 250 L395 460 L440 350 C465 290 490 220 490 175 C492 140 520 135 545 140 C575 145 580 175 565 230 C550 290 500 400 365 592 L352 592 L200 230 C190 200 175 188 158 190 C135 195 125 230 120 268 Z" fill="#000"/>
</svg>
</body></html>
